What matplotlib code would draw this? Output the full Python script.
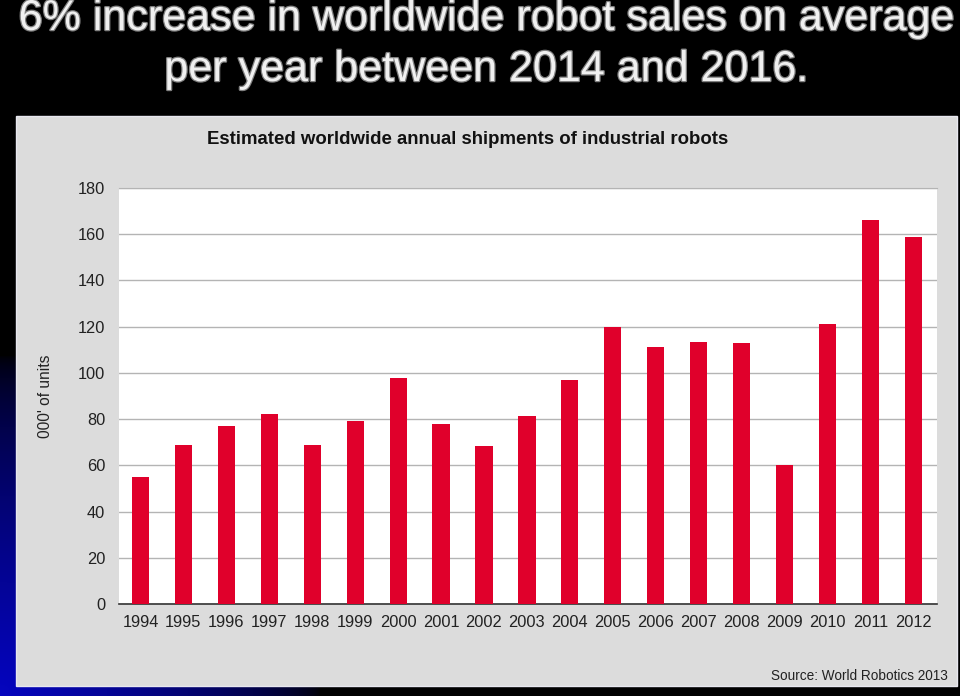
import numpy as np
import matplotlib
matplotlib.use("Agg")
import matplotlib.pyplot as plt
import matplotlib.patheffects as pe
from matplotlib.patches import Rectangle

plt.rcParams['font.family'] = ['Liberation Sans', 'DejaVu Sans']

# data (thousands of units)
years = ['1994', '1995', '1996', '1997', '1998', '1999', '2000', '2001', '2002', '2003',
         '2004', '2005', '2006', '2007', '2008', '2009', '2010', '2011', '2012']
shipments = [55, 69, 77, 82, 69, 79, 98, 78, 68.5, 81.5,
             97, 120, 111, 113.5, 113, 60, 121, 166, 159]
yticks = [0, 20, 40, 60, 80, 100, 120, 140, 160, 180]

W, H = 960, 696
fig = plt.figure(figsize=(9.6, 6.96), dpi=100)

# slide background: black with blue glow from bottom-left corner
bg = fig.add_axes([0, 0, 1, 1])
xx, yy = np.meshgrid(np.arange(W), np.arange(H))
d = np.sqrt((xx / 320.0) ** 2 + (yy / 340.0) ** 2)
glow = np.clip(1 - d, 0, 1) ** 0.6
img = np.zeros((H, W, 3))
img[..., 0] = 0.02 * glow
img[..., 1] = 0.02 * glow
img[..., 2] = 0.75 * glow
bg.imshow(img, extent=[0, W, 0, H], origin='lower', aspect='auto')
bg.set_xlim(0, W)
bg.set_ylim(0, H)
bg.axis('off')

# grey panel behind the chart
bg.add_patch(Rectangle((16, H - 686), 941, 570, facecolor='#dcdcdc',
                       edgecolor='#e8e8f0', lw=1))

# slide title
shadow = [pe.Stroke(linewidth=1.8, foreground='#808080'), pe.Normal()]
fig.text(486 / W, 1 - 19 / H, '6% increase in worldwide robot sales on average',
         ha='center', va='center', fontsize=31, color='#f0f0f0', path_effects=shadow)
fig.text(486 / W, 1 - 70 / H, 'per year between 2014 and 2016.',
         ha='center', va='center', fontsize=31, color='#f0f0f0', path_effects=shadow)

# chart
ax = fig.add_axes([119 / W, 1 - 604 / H, 818 / W, 416 / H])
x = np.arange(len(years))
ax.bar(x, shipments, width=0.4, color='#e0002b', zorder=3)
ax.set_xlim(-0.5, 18.55)
ax.set_ylim(0, 180)
ax.set_yticks(yticks)
ax.set_xticks(x)
ax.set_xticklabels(years)
ax.tick_params(axis='both', length=0, labelsize=11.8, colors='#222222')
ax.tick_params(axis='y', pad=10)
ax.tick_params(axis='x', pad=8)
ax.grid(axis='y', color='#b4b4b4', lw=1, zorder=0)
for s in ['left', 'right']:
    ax.spines[s].set_visible(False)
ax.spines['top'].set_color('#b4b4b4')
ax.spines['bottom'].set_color('#333333')
ax.spines['bottom'].set_linewidth(1.2)
ax.set_ylabel("000' of units", fontsize=11.2, color='#222222', labelpad=18)

fig.text(468 / W, 1 - 140 / H, 'Estimated worldwide annual shipments of industrial robots',
         ha='center', va='center', fontsize=13.4, fontweight='bold', color='#111111')
fig.text(948 / W, 1 - 676 / H, 'Source: World Robotics 2013',
         ha='right', va='center', fontsize=9.8, color='#222222')

fig.savefig('out.png', dpi=100, facecolor='black')
